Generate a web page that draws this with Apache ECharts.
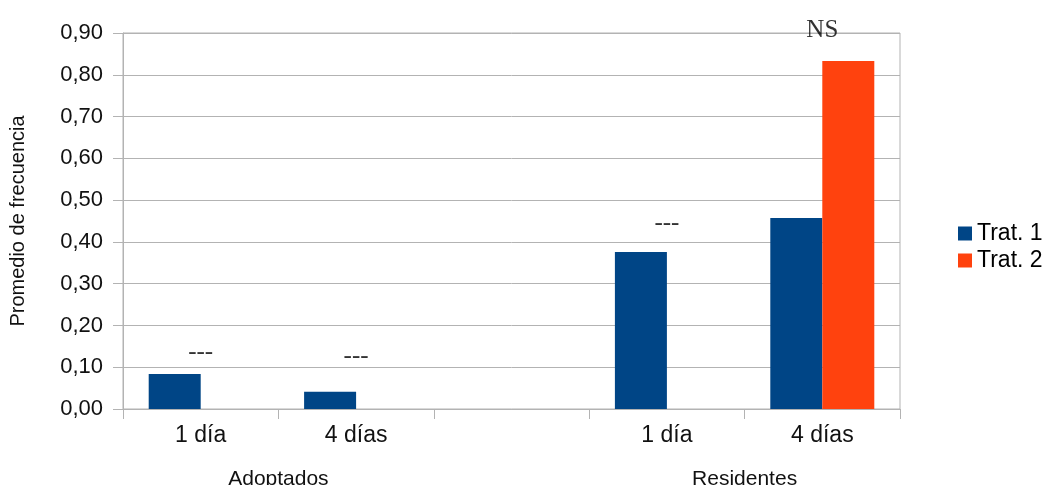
<!DOCTYPE html>
<html><head><meta charset="utf-8">
<script src="https://cdn.jsdelivr.net/npm/echarts@6/dist/echarts.min.js"></script>
<style>html,body{margin:0;padding:0;background:#fff}#c{width:1048px;height:485px}</style>
</head><body><div id="c"></div>
<script>
const categories = ['1 día', '4 días', '', '1 día', '4 días'];
const groupLabels = ['', '', 'Adoptados', '', '', '', '', '', 'Residentes', '', ''];
const seriesNames = ['Trat. 1', 'Trat. 2'];
const trat1 = [0.084, 0.041, null, 0.376, 0.457];
const trat2 = [null, null, null, null, 0.833];
const annotText = ['---', '---', '', '---', 'NS'];
const annotY = [0.135, 0.125, null, 0.445, 0.907];
const yTicks = [0, 0.9, 0.1];

const gray = '#b3b3b3';
const font = '"Liberation Sans", Arial, sans-serif';
const chart = echarts.init(document.getElementById('c'), null, {renderer: 'canvas'});
chart.setOption({
  animation: false,
  color: ['#004586', '#ff420e'],
  grid: {left: 123, right: 148, top: 33, bottom: 76, show: true, borderColor: gray, borderWidth: 1,
    backgroundColor: 'transparent', containLabel: false, outerBoundsMode: 'none'},
  legend: {
    data: seriesNames, orient: 'vertical', left: 953, top: 217,
    itemWidth: 14, itemHeight: 14, itemGap: 4, icon: 'rect',
    textStyle: {fontFamily: font, fontSize: 23, lineHeight: 23, color: '#000', padding: [0,0,0,0]}
  },
  xAxis: [{
    type: 'category', data: categories, position: 'bottom',
    axisLine: {lineStyle: {color: gray}},
    axisTick: {show: true, length: 10, lineStyle: {color: gray}},
    axisLabel: {fontFamily: font, fontSize: 23, color: '#111', margin: 15}
  }, {
    type: 'category', data: groupLabels, position: 'bottom', boundaryGap: false,
    axisLine: {show: false}, axisTick: {show: false},
    axisLabel: {fontFamily: font, fontSize: 21, color: '#111', margin: 60, interval: 0}
  }],
  yAxis: {
    type: 'value', min: yTicks[0], max: yTicks[1], interval: yTicks[2],
    name: 'Promedio de frecuencia', nameLocation: 'middle', nameGap: 95,
    nameTextStyle: {fontFamily: font, fontSize: 20, color: '#111'},
    axisLine: {show: true, lineStyle: {color: gray}},
    axisTick: {show: true, length: 10, lineStyle: {color: gray}},
    axisLabel: {fontFamily: font, fontSize: 22, color: '#111', margin: 20,
      formatter: v => v.toFixed(2).replace('.', ',')},
    splitLine: {lineStyle: {color: gray}}
  },
  series: [
    {name: seriesNames[0], type: 'bar', data: trat1, barWidth: 52, barGap: '0%'},
    {name: seriesNames[1], type: 'bar', data: trat2, barWidth: 52, barGap: '0%'},
    {name: 'annot', type: 'scatter', symbolSize: 0, silent: true, clip: false,
      data: annotY.map((y, i) => y == null ? null : [i, y]),
      label: {show: true, position: 'inside',
        formatter: p => annotText[p.dataIndex],
        fontFamily: '"Liberation Serif", "Times New Roman", serif', fontSize: 25, color: '#000'}}
  ]
});
</script></body></html>
